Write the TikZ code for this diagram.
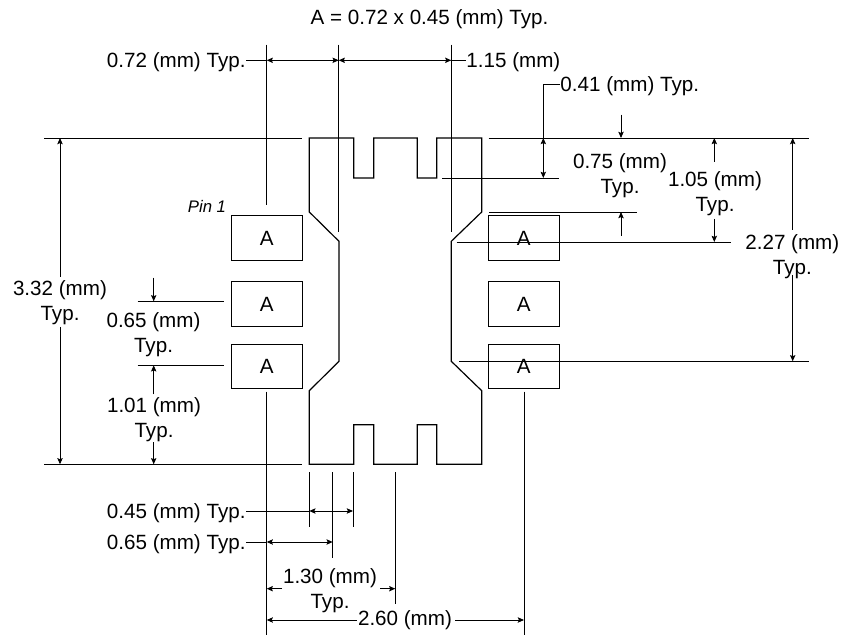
\documentclass[tikz,border=0pt]{standalone}
\usepackage{fontspec}
\setmainfont{Liberation Sans}
\usetikzlibrary{arrows.meta}

\begin{document}
\begin{tikzpicture}[
x=0.025cm, y=-0.025cm,
pad/.style={
	draw, rectangle, inner sep=0pt,
	minimum width=1.775cm, minimum height=1.115cm
},
dim/.style={
	inner sep=0pt, align=center,
	font=\fontsize{14.66}{17.8}\selectfont
},
pin/.style={
	inner sep=0pt, font=\fontsize{11.9}{14}\selectfont\itshape
},
line width=0.65pt, >={Stealth[length=4.4pt,width=3.8pt,inset=0.8pt]}
]
\useasboundingbox (0,0) rectangle (841,635);
% outline of the package
\draw[line width=0.85pt] (309.3,138) -- (353.7,138) -- (353.7,178) -- (373.7,178) -- (373.7,138)
	-- (417.3,138) -- (417.3,178) -- (436.7,178) -- (436.7,138) -- (481.7,138)
	-- (481.7,212) -- (451.3,241.3) -- (451.3,361.3) -- (481.7,390.7) -- (481.7,464.3)
	-- (436.7,464.3) -- (436.7,424.7) -- (417.3,424.7) -- (417.3,464.3) -- (373.7,464.3)
	-- (373.7,424.7) -- (353.7,424.7) -- (353.7,464.3) -- (309.3,464.3)
	-- (309.3,390.7) -- (339,361.3) -- (339,241.3) -- (309.3,212) -- cycle;
% pads
\foreach \i/\y in {1/238,2/304.2,3/366.3}
{
	\node[pad] (left\i) at (266.7,\y) {\fontsize{14.66}{17.8}\selectfont A};
	\node[pad] (right\i) at (523.8,\y) {\fontsize{14.66}{17.8}\selectfont A};
}
\node[pin] (pin1) at (207,206.5) {Pin 1};
% labels
\node[dim] (title) at (429.5,19) {A = 0.72 x 0.45 (mm) Typ.};
\node[dim,anchor=east] (t072) at (246,62) {0.72 (mm) Typ.};
\node[dim,anchor=west] (t115) at (466,62) {1.15 (mm)};
\node[dim,anchor=west] (t041) at (560,86) {0.41 (mm) Typ.};
\node[dim] (t075) at (620,175.5) {0.75 (mm)\\Typ.};
\node[dim] (t105) at (715,193.5) {1.05 (mm)\\Typ.};
\node[dim] (t227) at (792.3,256.5) {2.27 (mm)\\Typ.};
\node[dim] (t332) at (60,302.5) {3.32 (mm)\\Typ.};
\node[dim] (t065a) at (153.5,334.5) {0.65 (mm)\\Typ.};
\node[dim] (t101) at (154,420) {1.01 (mm)\\Typ.};
\node[dim,anchor=east] (t045) at (246,513) {0.45 (mm) Typ.};
\node[dim,anchor=east] (t065b) at (246,544) {0.65 (mm) Typ.};
\node[dim] (t130) at (330,591) {1.30 (mm)\\Typ.};
\node[dim] (t260) at (405,620) {2.60 (mm)};
% extension lines, vertical
\foreach \x/\a/\b in {266.7/44.7/205, 338.7/44.7/231.7, 451.3/44.7/231.7,
	266.7/391.7/635, 524/391.7/635, 309.3/472/526.7, 353/472/526.7,
	332.7/472/557.7, 395.3/472/604.3}
{
	\draw (\x,\a) -- (\x,\b);
}
% extension lines, horizontal
\foreach \y/\a/\b in {138/44.3/302, 138/488.7/808.7, 464.3/44.3/302, 178/442/559,
	212/489/636.7, 242/456.7/730.7, 361.3/459.3/808.7, 301.3/137.7/224, 365.3/137.7/224}
{
	\draw (\a,\y) -- (\b,\y);
}
% dimensions with a leader
\coordinate (a1) at (266.7,60.3);
\coordinate (a2) at (338.7,60.3);
\coordinate (a3) at (451.3,60.3);
\draw[<->] (a1) -- (a2);
\draw[<->] (a2) -- (a3);
\draw (t072.east |- a1) -- (a1);
\draw (a3) -- (t115.west |- a3);
\coordinate (b1) at (543.3,84);
\coordinate (b2) at (543.3,138);
\coordinate (b3) at (543.3,178);
\draw (t041.west |- b1) -- (b1) -- (b2);
\draw[<->] (b2) -- (b3);
\coordinate (c1) at (309.3,511);
\coordinate (c2) at (353,511);
\draw[<->] (c1) -- (c2);
\draw (t045.east |- c1) -- (c1);
\coordinate (d1) at (266.7,542);
\coordinate (d2) at (332.7,542);
\draw[<->] (d1) -- (d2);
\draw (t065b.east |- d1) -- (d1);
% single arrows from a free end to an extension line
\foreach \x/\a/\b in {621/114.7/138, 621/235.7/212, 714.3/161.7/138, 714.3/219/242,
	792.7/230/138, 792.7/275/361.3, 60/277/138, 60/327/464.3,
	153.7/277.7/301.3, 153.7/394.3/365.3, 153.7/442/464.3}
{
	\draw[->] (\x,\a) -- (\x,\b);
}
\foreach \y/\a/\b in {588.7/282/266.7, 588.7/380/395.3, 620/356.7/266.7, 620/455/524}
{
	\draw[->] (\a,\y) -- (\b,\y);
}
\end{tikzpicture}
\end{document}
